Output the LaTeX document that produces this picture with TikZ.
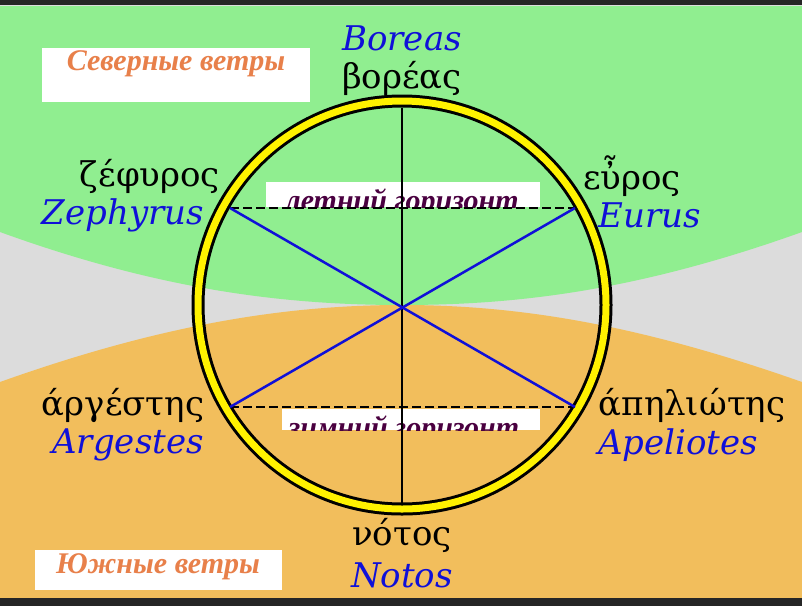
\documentclass[tikz,border=0pt]{standalone}
\usepackage{fontspec}
\setmainfont{Liberation Serif}
\newfontfamily\serifA{DejaVu Serif}
\newfontfamily\serifB{Liberation Serif}
\definecolor{bggreen}{HTML}{90EE90}
\definecolor{bgorange}{HTML}{F2BE5C}
\definecolor{bggray}{HTML}{DCDCDC}
\definecolor{ruorange}{HTML}{E8804A}
\definecolor{rupurple}{HTML}{4A0040}
\definecolor{latblue}{HTML}{1010D8}
\begin{document}
\begin{tikzpicture}[x=1pt,y=-1pt,
  lat/.style={font=\serifA\fontsize{34}{34}\selectfont\itshape,text=latblue,inner sep=0pt},
  grk/.style={font=\serifA\fontsize{34}{34}\selectfont,text=black,inner sep=0pt},
  rulab/.style={font=\serifB\fontsize{30}{30}\selectfont\bfseries\itshape,text=ruorange},
  hor/.style={font=\serifB\fontsize{30}{30}\selectfont\bfseries\itshape,text=rupurple}]
\useasboundingbox (0,0) rectangle (802,606);
\fill[bggray] (0,0) rectangle (802,606);
\fill[bggreen] (0,6) -- (802,6) -- (802,232) .. controls (640,290) and (520,305) .. (402,305) .. controls (284,305) and (160,290) .. (0,232) -- cycle;
\fill[bgorange] (0,598) -- (802,598) -- (802,382) .. controls (640,325) and (520,305) .. (402,305) .. controls (284,305) and (160,325) .. (0,382) -- cycle;
\fill[black!85] (0,0) rectangle (802,5);
\fill[black!85] (0,598) rectangle (802,606);
\fill[white] (42,48) rectangle (310,102);
\node[rulab] (nw) at (176,64) {Северные ветры};
\fill[white] (35,550) rectangle (282,590);
\node[rulab] (sw) at (158,567) {Южные ветры};
% circle
\draw[line width=13pt] (402,305) circle (204);
\draw[yellow,line width=7pt] (402,305) circle (204);
\coordinate (top) at (402,108);
\coordinate (bot) at (402,503);
\coordinate (ul) at (230,208);
\coordinate (ur) at (575,208);
\coordinate (ll) at (230,407);
\coordinate (lr) at (575,407);
\begin{scope}
\clip (266,182) rectangle (540,207);
\fill[white] (266,182) rectangle (540,207);
\node[hor] (summer) at (402,203) {летний горизонт};
\end{scope}
\begin{scope}
\clip (282,409) rectangle (540,430);
\fill[white] (282,409) rectangle (540,430);
\node[hor] (winter) at (404,430) {зимний горизонт};
\end{scope}
\draw[line width=2.5pt] (top) -- (bot);
\draw[line width=2.5pt,dash pattern=on 9pt off 4pt] (ul) -- (ur);
\draw[line width=2.5pt,dash pattern=on 9pt off 4pt] (ll) -- (lr);
\draw[latblue,line width=2.5pt] (ul) -- (lr);
\draw[latblue,line width=2.5pt] (ur) -- (ll);
% labels
\node[lat] (boreas) at (402,38) {Boreas};
\node[grk] (boreasg) at (402,78) {βορέας};
\node[grk] (zephg) at (150,176) {ζέφυρος};
\node[lat] (zeph) at (123,215) {Zephyrus};
\node[grk] (eurg) at (632,176) {εὖρος};
\node[lat] (eur) at (650,215) {Eurus};
\node[grk] (argg) at (123,405) {άργέστης};
\node[lat] (arg) at (128,445) {Argestes};
\node[grk] (apg) at (692,405) {άπηλιώτης};
\node[lat] (ap) at (678,445) {Apeliotes};
\node[grk] (notg) at (402,535) {νότος};
\node[lat] (not) at (402,575) {Notos};
\end{tikzpicture}
\end{document}
